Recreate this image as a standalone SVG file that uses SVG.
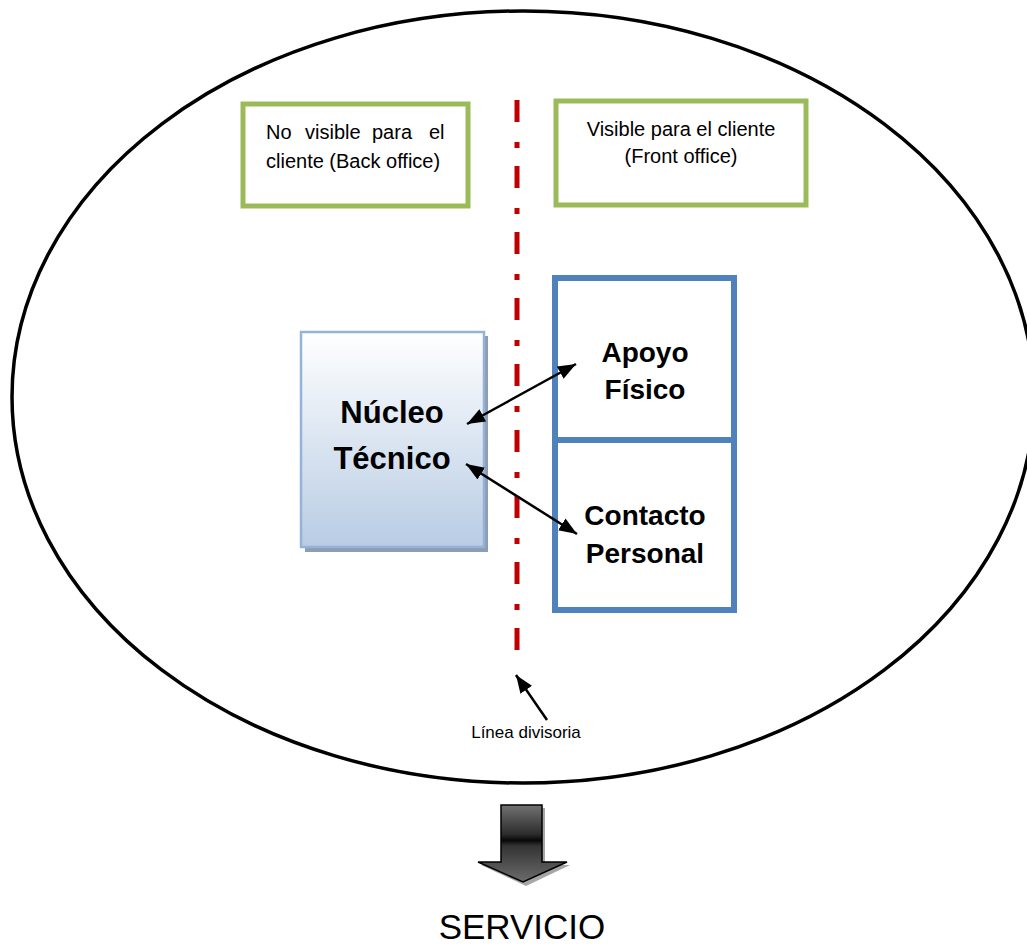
<svg xmlns="http://www.w3.org/2000/svg" width="1027" height="945" viewBox="0 0 1027 945">
  <style>
    text { font-family: "Liberation Sans", Arial, sans-serif; fill: #000; }
    .small { font-size: 20px; }
    .label { font-size: 17px; }
    .big { font-size: 31px; font-weight: bold; text-anchor: middle; }
    .mid { font-size: 28px; font-weight: bold; text-anchor: middle; }
    .green { fill: #fff; stroke: #9BBB59; stroke-width: 5; }
    .blue { fill: #fff; stroke: #4F81BD; stroke-width: 6; }
    .link { stroke: #000; stroke-width: 2.5; fill: none; }
  </style>
  <defs>
    <linearGradient id="coreFill" x1="0" y1="0" x2="0" y2="1">
      <stop offset="0" stop-color="#FFFFFF"/>
      <stop offset="1" stop-color="#B8CCE4"/>
    </linearGradient>
    <linearGradient id="arrowFill" x1="0" y1="0" x2="0" y2="1">
      <stop offset="0" stop-color="#727272"/>
      <stop offset="0.38" stop-color="#2c2c2c"/>
      <stop offset="0.46" stop-color="#080808"/>
      <stop offset="0.53" stop-color="#333333"/>
      <stop offset="1" stop-color="#6c6c6c"/>
    </linearGradient>
    <marker id="head" viewBox="0 0 18 14" refX="18" refY="7" markerWidth="18" markerHeight="14" markerUnits="userSpaceOnUse" orient="auto-start-reverse">
      <path d="M0,0 L18,7 L0,14 z" fill="#000"/>
    </marker>
  </defs>

  <rect width="1027" height="945" fill="#fff"/>

  <!-- outer service boundary -->
  <ellipse id="boundary" cx="523" cy="397" rx="511" ry="386" fill="none" stroke="#000" stroke-width="3.5"/>

  <!-- dividing line between back office and front office -->
  <line id="divider" x1="517" y1="100" x2="517" y2="652" stroke="#C00000" stroke-width="5" stroke-dasharray="22 20 6 18"/>

  <g id="back-office">
    <rect class="green" x="243" y="104" width="225" height="102"/>
    <!-- justified first line: words placed one by one -->
    <text class="small" y="139"><tspan x="266">No</tspan><tspan x="305">visible</tspan><tspan x="372">para</tspan><tspan x="429">el</tspan></text>
    <text class="small" x="266" y="168">cliente (Back office)</text>
  </g>

  <g id="front-office">
    <rect class="green" x="556" y="101" width="250" height="104"/>
    <text class="small" x="681" y="136" text-anchor="middle" font-size="19.5">Visible para el cliente</text>
    <text class="small" x="681" y="163" text-anchor="middle" font-size="19.5">(Front office)</text>
  </g>

  <g id="nucleo-tecnico">
    <rect x="305" y="336" width="183" height="216" fill="#8E9DB5"/>
    <rect x="301" y="332" width="183" height="215" fill="url(#coreFill)" stroke="#95B3D7" stroke-width="2.5"/>
    <text class="big" x="392" y="423">Núcleo</text>
    <text class="big" x="392" y="469">Técnico</text>
  </g>

  <g id="apoyo-fisico">
    <rect class="blue" x="555" y="278" width="179" height="162"/>
    <text class="mid" x="645" y="362">Apoyo</text>
    <text class="mid" x="645" y="399">Físico</text>
  </g>

  <g id="contacto-personal">
    <rect class="blue" x="555" y="440" width="179" height="170"/>
    <text class="mid" x="645" y="525">Contacto</text>
    <text class="mid" x="645" y="563">Personal</text>
  </g>

  <g id="connectors">
    <line class="link" x1="467" y1="424" x2="576" y2="364" marker-start="url(#head)" marker-end="url(#head)"/>
    <line class="link" x1="466" y1="464" x2="577" y2="534" marker-start="url(#head)" marker-end="url(#head)"/>
    <line class="link" x1="547" y1="720" x2="516" y2="675" marker-end="url(#head)"/>
  </g>

  <g id="linea-label">
    <text class="label" x="526" y="738" text-anchor="middle">Línea divisoria</text>
  </g>

  <!-- output arrow -->
  <g id="output-arrow">
    <polygon points="504,808 545,808 545,865 570,865 526,886 481,865 504,865" fill="#A6A6A6"/>
    <polygon points="501,805 542,805 542,862 567,862 523,882 478,862 501,862" fill="url(#arrowFill)" stroke="#000" stroke-width="1.5" stroke-linejoin="miter"/>
  </g>

  <g id="servicio">
    <text x="522" y="939" text-anchor="middle" font-size="35">SERVICIO</text>
  </g>
</svg>
